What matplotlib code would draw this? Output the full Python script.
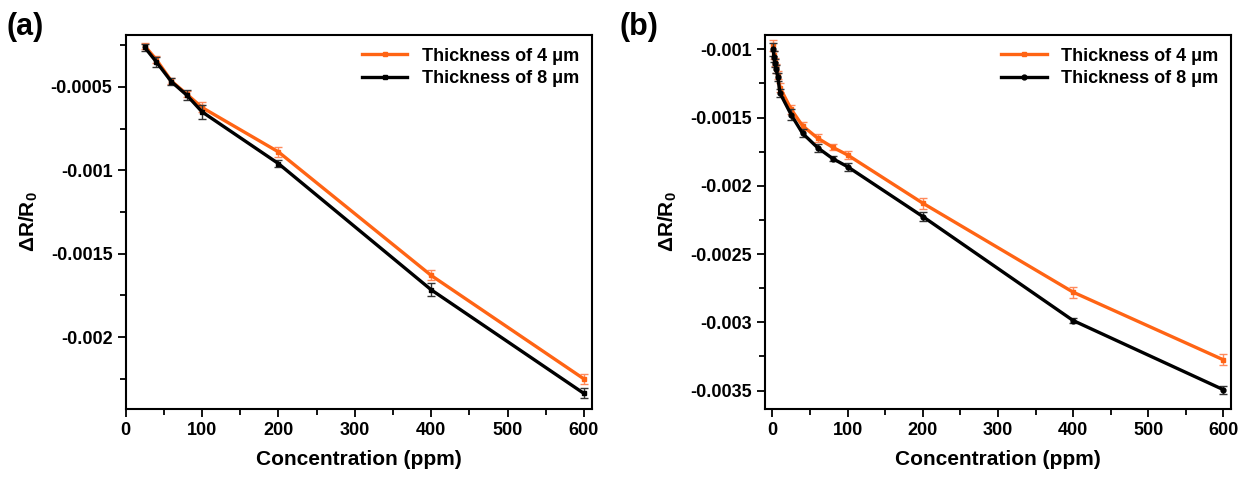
import numpy as np
import matplotlib
matplotlib.use('Agg')
import matplotlib.pyplot as plt
from matplotlib.ticker import MultipleLocator, AutoMinorLocator, FuncFormatter

plt.rcParams['font.family'] = ['Liberation Sans', 'DejaVu Sans']
plt.rcParams['font.weight'] = 'bold'
plt.rcParams['mathtext.fontset'] = 'custom'
plt.rcParams['mathtext.rm'] = 'Liberation Sans:bold'
plt.rcParams['mathtext.bf'] = 'Liberation Sans:bold'

# panel (a)
conc_a = [25, 40, 60, 80, 100, 200, 400, 600]
t4_a = [-0.000256, -0.000336, -0.000466, -0.000544, -0.000624, -0.00089, -0.00163, -0.00225]
t4_a_err = [0.00002, 0.00002, 0.00002, 0.00002, 0.00003, 0.00003, 0.00003, 0.00003]
t8_a = [-0.000264, -0.00035, -0.00047, -0.00055, -0.00065, -0.00096, -0.001716, -0.002337]
t8_a_err = [0.00002, 0.00003, 0.00002, 0.00003, 0.00004, 0.00002, 0.00004, 0.00003]

# panel (b)
conc_b = [1, 2, 3, 5, 7, 10, 25, 40, 60, 80, 100, 200, 400, 600]
t4_b = [-0.00097, -0.00104, -0.00109, -0.00114, -0.00119, -0.00128, -0.00144,
        -0.00156, -0.00165, -0.001717, -0.001774, -0.002127, -0.002779, -0.003275]
t4_b_err = [0.00004, 0.00003, 0.00003, 0.00003, 0.00003, 0.00003, 0.00003,
            0.00003, 0.00003, 0.00002, 0.00003, 0.00004, 0.00004, 0.00004]
t8_b = [-0.001, -0.001054, -0.001102, -0.001146, -0.0012, -0.00132, -0.00148,
        -0.001615, -0.00172, -0.0018, -0.00186, -0.002225, -0.002987, -0.003494]
t8_b_err = [0.00005, 0.00004, 0.00003, 0.00003, 0.00003, 0.00003, 0.00004,
            0.00003, 0.00003, 0.00002, 0.00003, 0.00003, 0.00002, 0.00003]

labels = ['Thickness of 4 \u03bcm', 'Thickness of 8 \u03bcm']
orange = '#FF6414'
orange_err = '#FF8A5C'

fig = plt.figure(figsize=(12.43, 4.8), dpi=100)
ax_a = fig.add_axes([0.1011, 0.148, 0.3748, 0.779])
ax_b = fig.add_axes([0.6154, 0.148, 0.3749, 0.779])

def draw(ax, x, y4, e4, y8, e8, mk8):
    c4 = ax.errorbar(x, y4, yerr=e4, color=orange, ecolor=orange_err, lw=2.4,
                     marker='s', ms=3.5, capsize=3, elinewidth=1, capthick=1, zorder=3)
    c8 = ax.errorbar(x, y8, yerr=e8, color='black', ecolor='#333333', lw=2.4,
                     marker=mk8, ms=3.5, capsize=3, elinewidth=1, capthick=1, zorder=4)
    ax.set_xlabel('Concentration (ppm)', fontsize=15, fontweight='bold', labelpad=8)
    ax.set_ylabel(r'$\Delta$R/R$_0$', fontsize=15, fontweight='bold', labelpad=8)
    ax.xaxis.set_major_locator(MultipleLocator(100))
    ax.xaxis.set_minor_locator(AutoMinorLocator(2))
    ax.yaxis.set_major_locator(MultipleLocator(0.0005))
    ax.yaxis.set_minor_locator(AutoMinorLocator(2))
    ax.yaxis.set_major_formatter(FuncFormatter(lambda v, p: '%g' % v))
    ax.tick_params(which='both', direction='out', labelsize=13, width=1.3)
    ax.tick_params(which='major', length=6)
    ax.tick_params(which='minor', length=4)
    for s in ax.spines.values():
        s.set_linewidth(1.5)
    for t in ax.get_xticklabels() + ax.get_yticklabels():
        t.set_fontweight('bold')
    # legend with line + marker only (no error bars)
    leg = ax.legend([c4.lines[0], c8.lines[0]], labels, loc='upper right',
                    frameon=False, fontsize=13, handlelength=2.5,
                    borderaxespad=0.3, labelspacing=0.3, numpoints=1)
    for t in leg.get_texts():
        t.set_fontweight('bold')

draw(ax_a, conc_a, t4_a, t4_a_err, t8_a, t8_a_err, 's')
ax_a.set_xlim(0, 610)
ax_a.set_ylim(-0.00243, -0.00019)

draw(ax_b, conc_b, t4_b, t4_b_err, t8_b, t8_b_err, 'o')
ax_b.set_xlim(-10, 610)
ax_b.set_ylim(-0.003635, -0.000895)

fig.text(0.005, 0.975, '(a)', fontsize=22, fontweight='bold', va='top', ha='left')
fig.text(0.498, 0.975, '(b)', fontsize=22, fontweight='bold', va='top', ha='left')

fig.savefig('out.png', dpi=100)
